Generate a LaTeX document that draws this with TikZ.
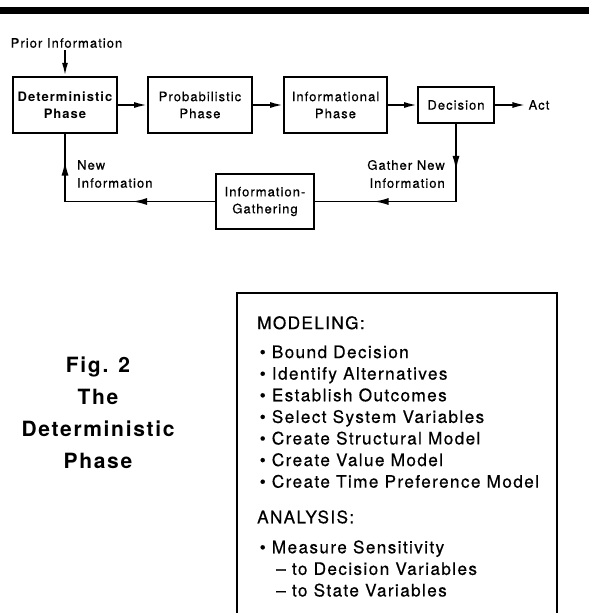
\documentclass[tikz,border=0pt]{standalone}
\usepackage{fontspec}
\setmainfont{TeX Gyre Heros}[LetterSpace=8, UprightFeatures={FakeBold=0.5}]
\usetikzlibrary{arrows.meta,decorations.markings}

\newcommand{\stepitem}[1]{\hspace*{2.5pt}\textbullet\ #1}
\newcommand{\stepsub}[1]{\hspace*{19pt}-- #1}

\begin{document}
\begin{tikzpicture}[x=1pt,y=-1pt,
    phasebox/.style={draw, line width=1.8pt, minimum width=104pt, minimum height=56pt,
                     inner sep=0pt, align=center, font=\fontsize{13}{17}\selectfont},
    flowtext/.style={inner sep=0pt, font=\fontsize{13}{18}\selectfont},
    flowarrow/.style={line width=1.8pt, -{Latex[length=13pt,width=6pt]}},
    backline/.style 2 args={line width=1.8pt, postaction={decorate},
        decoration={markings,
            mark=at position #1 with {\arrow{Latex[length=15pt,width=7pt]}},
            mark=at position #2 with {\arrow{Latex[length=15pt,width=7pt]}}}}]
                    \useasboundingbox (0,0) rectangle (589,613);
                    \fill (0,7) rectangle (589,14);
                    \node[inner sep=2pt, font=\fontsize{13}{14}\selectfont] (prior) at (66.5,43) {Prior Information};
                    \node[phasebox, line width=2.4pt, font=\bfseries\fontsize{13}{17}\selectfont] (det) at (65,105) {Deterministic\\Phase};
                    \draw[flowarrow] (det.north |- prior.south) -- (det.north);
                    \node[phasebox] (prob) at (200,105) {Probabilistic\\Phase};
                    \draw[flowarrow] (det) -- (prob);
                    \node[phasebox, minimum width=103pt] (info) at (335.5,105) {Informational\\Phase};
                    \draw[flowarrow] (prob) -- (info);
                    \node[phasebox, minimum width=76pt, minimum height=36pt] (dec) at (456,105) {Decision};
                    \draw[flowarrow] (info) -- (dec);
                    \node[inner sep=3pt, font=\fontsize{13}{14}\selectfont] (act) at (539,105) {Act};
                    \draw[flowarrow] (dec) -- (act);
                    \node[phasebox, minimum width=98pt, minimum height=55pt] (gather) at (265,201.5) {Information-\\Gathering};
                    \node[flowtext, align=right, anchor=east] (gathernew) at (445,174) {Gather New\\Information};
                    \node[flowtext, align=left, anchor=west] (newinfo) at (77,174) {New\\Information};
                    \draw[backline={47pt}{160pt}] (dec.south) -- (dec.south |- gather.east) -- (gather.east);
                    \draw[backline={83pt}{191pt}] (gather.west) -- (gather.west -| det.south) -- (det.south);
                    % caption and step list
                    \node[align=center, font=\bfseries\fontsize{21}{32}\selectfont] (fig) at (98,413) {Fig. 2\\The\\Deterministic\\Phase};
                    \draw[line width=2.4pt] (237,614) -- (237,293) -- (557,293) -- (557,614);
                    \node[anchor=north west, inner sep=0pt, align=left, font=\fontsize{17.2}{21.6}\selectfont] (steps) at (257,316)
                        {MODELING:\\[7.4pt]
                         \stepitem{Bound Decision}\\
                         \stepitem{Identify Alternatives}\\
                         \stepitem{Establish Outcomes}\\
                         \stepitem{Select System Variables}\\
                         \stepitem{Create Structural Model}\\
                         \stepitem{Create Value Model}\\
                         \stepitem{Create Time Preference Model}\\[14pt]
                         ANALYSIS:\\[8.4pt]
                         \stepitem{Measure Sensitivity}\\
                         \stepsub{to Decision Variables}\\
                         \stepsub{to State Variables}};
                \end{tikzpicture}
\end{document}
